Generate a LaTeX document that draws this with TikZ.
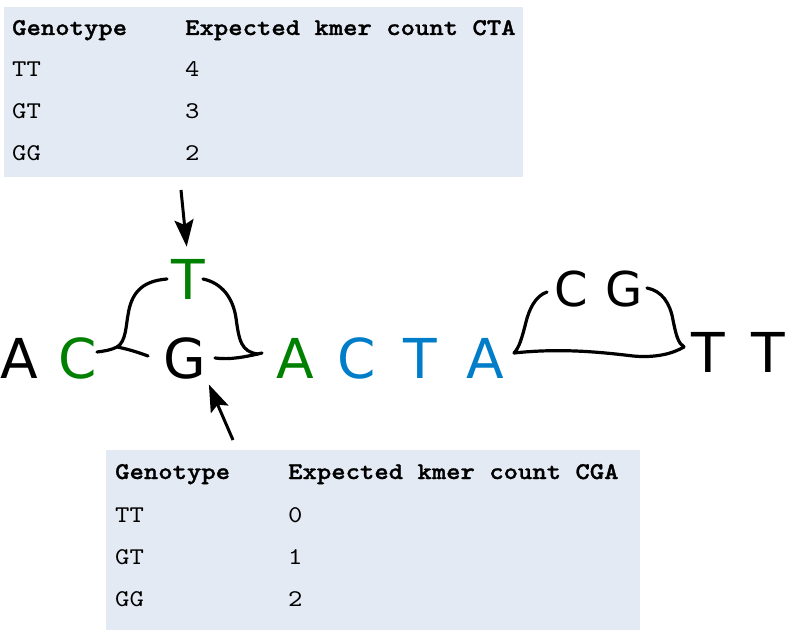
\documentclass[tikz,border=0pt]{standalone}
\usepackage{fontspec}
\setmainfont{DejaVu Sans}
\newfontfamily\monof{lmmono10-regular.otf}[FakeStretch=1.14]
\newfontfamily\monobf{lmmonolt10-bold.otf}[FakeStretch=1.14,FakeBold=1.2]
\usetikzlibrary{arrows.meta}
\definecolor{sgreen}{RGB}{0,128,0}
\definecolor{sblue}{RGB}{0,125,200}
\definecolor{tabbg}{RGB}{228,234,244}
\begin{document}
\begin{tikzpicture}[x=1pt,y=-1pt,
  base/.style={font=\fontsize{55}{60}\selectfont, inner sep=0pt, anchor=base},
  small/.style={font=\fontsize{48}{52}\selectfont, inner sep=0pt, anchor=base},
  cell/.style={font=\monof\fontsize{24}{26}\selectfont, inner sep=0pt, anchor=base west},
  hcell/.style={font=\monobf\fontsize{24}{26}\selectfont, inner sep=0pt, anchor=base west},
  brace/.style={line width=3.2pt, line cap=round},
  arr/.style={line width=3pt, -{Stealth[length=27pt,width=19pt,inset=5pt]}}]
\useasboundingbox (0,0) rectangle (788,631);
% top table
\fill[tabbg] (4,7) rectangle (523,177);
\node[hcell] (t1h1) at (12,35) {Genotype};
\node[hcell] (t1h2) at (185,35) {Expected kmer count CTA};
\node[cell] (t1a) at (12,77) {TT};  \node[cell] (t1b) at (185,77) {4};
\node[cell] (t1c) at (12,119) {GT}; \node[cell] (t1d) at (185,119) {3};
\node[cell] (t1e) at (12,161) {GG}; \node[cell] (t1f) at (185,161) {2};
% bottom table
\fill[tabbg] (106,450) rectangle (640,630);
\node[hcell] (t2h1) at (115,479) {Genotype};
\node[hcell] (t2h2) at (288,479) {Expected kmer count CGA};
\node[cell] (t2a) at (115,522) {TT};  \node[cell] (t2b) at (288,522) {0};
\node[cell] (t2c) at (115,564) {GT};  \node[cell] (t2d) at (288,564) {1};
\node[cell] (t2e) at (115,606) {GG};  \node[cell] (t2f) at (288,606) {2};
% sequence
\node[base] (s1) at (19,378) {A};
\node[base, text=sgreen] (s2) at (78,378) {C};
\node[base] (sG) at (185,378) {G};
\node[base, text=sgreen] (sT) at (188,300) {T};
\node[base, text=sgreen] (s4) at (295,378) {A};
\node[base, text=sblue] (s5) at (357,378) {C};
\node[base, text=sblue] (s6) at (420,378) {T};
\node[base, text=sblue] (s7) at (485,378) {A};
\node[small] (sC2) at (571,307) {C};
\node[small] (sG2) at (624,307) {G};
\node[base] (s8) at (708,373) {T};
\node[base] (s9) at (768,373) {T};
% braces around T/G
\draw[brace] (97,352) .. controls (105,351) and (111,350) .. (117,347)
   .. controls (128,349) and (140,353) .. (148,356);
\draw[brace] (117,347) .. controls (126,342) and (126,325) .. (128,315)
   .. controls (131,295) and (140,281) .. (167,279);
\draw[brace] (203,279) .. controls (222,283) and (233,298) .. (236,318)
   .. controls (239,340) and (241,352) .. (258,354);
\draw[brace] (215,358) .. controls (230,360) and (245,357) .. (262,353);
% brace around CG
\draw[brace] (547,292) .. controls (535,296) and (529,310) .. (526,322)
   .. controls (522,338) and (519,348) .. (514,353);
\draw[brace] (514,353) .. controls (560,348) and (600,352) .. (633,356)
   .. controls (655,358) and (672,354) .. (684,347);
\draw[brace] (647,288) .. controls (662,291) and (670,303) .. (673,320)
   .. controls (676,335) and (678,343) .. (684,347);
% arrows
\coordinate (aTop) at (181,190);
\coordinate (aBot) at (233,440);
\draw[arr, shorten >=13pt] (aTop) -- (sT.north);
\draw[arr, shorten >=6pt] (aBot) -- (sG.south east);
\end{tikzpicture}
\end{document}
